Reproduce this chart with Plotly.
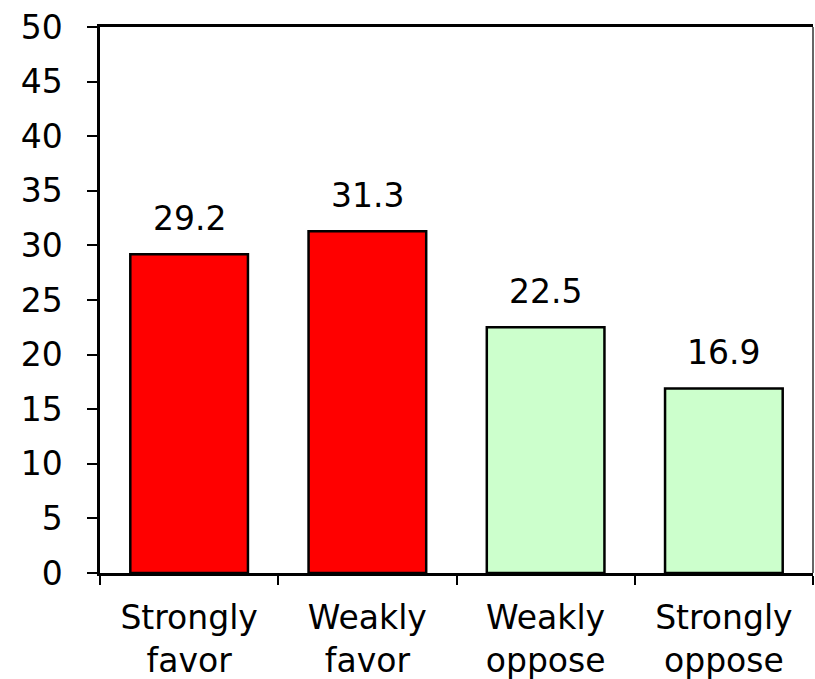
import plotly.graph_objects as go

categories = ["Strongly<br>favor", "Weakly<br>favor", "Weakly<br>oppose", "Strongly<br>oppose"]
values = [29.2, 31.3, 22.5, 16.9]
bar_colors = ["#FF0000", "#FF0000", "#CCFFCC", "#CCFFCC"]
y_ticks = list(range(0, 51, 5))

FONT = "DejaVu Sans"
FSIZE = 33

fig = go.Figure(
    go.Bar(
        x=categories,
        y=values,
        marker=dict(color=bar_colors, line=dict(color="black", width=2.5)),
        width=0.66,
        hoverinfo="skip",
    )
)

# value labels above each bar
for cat, v in zip(categories, values):
    fig.add_annotation(
        x=cat, y=v, text=f"{v:.1f}", showarrow=False,
        yanchor="bottom", yshift=14,
        font=dict(family=FONT, size=FSIZE, color="black"),
    )

# grey frame on the right side of the plot area
fig.add_shape(type="line", xref="paper", yref="paper", x0=1, x1=1, y0=0, y1=1,
              line=dict(color="#666666", width=2))

fig.update_layout(
    width=815, height=679,
    margin=dict(l=100, r=2, t=27, b=106),
    paper_bgcolor="white", plot_bgcolor="white",
    showlegend=False,
    font=dict(family=FONT, size=FSIZE, color="black"),
    xaxis=dict(
        showline=True, linecolor="black", linewidth=2.5, mirror=True,
        ticks="outside", ticklen=9, tickcolor="black", tickwidth=2,
        tickson="boundaries", showgrid=False, automargin=False,
        ticklabelstandoff=14,
        tickfont=dict(family=FONT, size=FSIZE, color="black"),
    ),
    yaxis=dict(
        range=[0, 50], tickvals=y_ticks,
        showline=True, linecolor="black", linewidth=2.5,
        ticks="outside", ticklen=10, tickcolor="black", tickwidth=2,
        showgrid=False, zeroline=False, automargin=False,
        ticklabelstandoff=18,
        tickfont=dict(family=FONT, size=FSIZE, color="black"),
    ),
)

fig.write_html("out.html")
